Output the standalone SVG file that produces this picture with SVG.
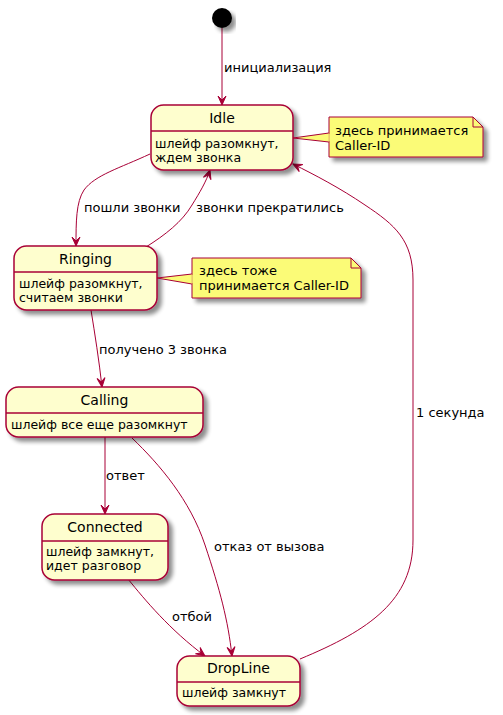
<svg xmlns="http://www.w3.org/2000/svg" width="503" height="715" viewBox="0 0 503 715">
<defs>
<filter id="sh" x="-10%" y="-10%" width="130%" height="140%">
<feGaussianBlur in="SourceAlpha" stdDeviation="2" result="b"/>
<feOffset in="b" dx="4" dy="4" result="o"/>
<feComponentTransfer in="o" result="c"><feFuncA type="linear" slope="0.45"/></feComponentTransfer>
<feMerge><feMergeNode in="c"/><feMergeNode in="SourceGraphic"/></feMerge>
</filter>
<marker id="ar" markerUnits="userSpaceOnUse" markerWidth="12" markerHeight="12" viewBox="-1 -6 12 12" refX="9" refY="0" orient="auto">
<path d="M0,-4 L9,0 L0,4 L4,0 Z" fill="#A80036" stroke="#A80036" stroke-width="1"/>
</marker>
</defs>
<style>
.st{fill:#FEFECE;stroke:#A80036;stroke-width:1.5;filter:url(#sh)}
.dv{stroke:#A80036;stroke-width:1.5}
.nt{fill:#FBFB77;stroke:#A80036;stroke-width:1;filter:url(#sh)}
.nf{fill:none;stroke:#A80036;stroke-width:1}
.ed{fill:none;stroke:#A80036;stroke-width:1;marker-end:url(#ar)}
text{font-family:"DejaVu Sans","Liberation Sans",sans-serif;fill:#000}
.t{font-size:14px;text-anchor:middle}
.b{font-size:12.5px}
.l{font-size:13px}
</style>
<rect width="503" height="715" fill="#FFFFFF"/>
<g id="connectors">
<line class="ed" x1="222" y1="28" x2="222" y2="105"/>
<path class="ed" d="M150,154 C120,168 95,175 84,190 C76,202 76,222 76,246"/>
<path class="ed" d="M146,247 C165,235 182,222 192,205 C200,192 206,182 210,170"/>
<path class="ed" d="M91,310 C95,335 99,360 102,387"/>
<line class="ed" x1="105" y1="437" x2="105" y2="514"/>
<path class="ed" d="M132,438 C160,465 190,500 205,545 C220,590 228,620 232,656"/>
<path class="ed" d="M128,579 C145,600 170,630 205,656"/>
<path class="ed" d="M300,659 C370,630 413,600 413,540 L413,280 C413,240 395,225 365,205 C340,188 315,175 293,164"/>
<text class="l" x="224" y="72">инициализация</text>
<text class="l" x="84" y="212">пошли звонки</text>
<text class="l" x="196" y="212">звонки прекратились</text>
<text class="l" x="99" y="354">получено 3 звонка</text>
<text class="l" x="106" y="480">ответ</text>
<text class="l" x="214" y="551">отказ от вызова</text>
<text class="l" x="172" y="621">отбой</text>
<text class="l" x="416" y="417">1 секунда</text>
</g>
<g id="start">
<circle cx="222" cy="18" r="10" fill="#000" filter="url(#sh)"/>
</g>
<g id="Idle">
<rect class="st" x="151" y="105" width="142" height="65" rx="12.5"/>
<line class="dv" x1="151" y1="131" x2="293" y2="131"/>
<text class="t" x="222" y="123">Idle</text>
<text class="b" x="155" y="148">шлейф разомкнут,</text>
<text class="b" x="155" y="162">ждем звонка</text>
</g>
<g id="Ringing">
<rect class="st" x="14" y="246" width="143" height="64" rx="12.5"/>
<line class="dv" x1="14" y1="272" x2="157" y2="272"/>
<text class="t" x="85.5" y="264">Ringing</text>
<text class="b" x="19" y="288">шлейф разомкнут,</text>
<text class="b" x="19" y="302">считаем звонки</text>
</g>
<g id="Calling">
<rect class="st" x="6" y="387" width="197" height="50" rx="12.5"/>
<line class="dv" x1="6" y1="413" x2="203" y2="413"/>
<text class="t" x="104.5" y="405">Calling</text>
<text class="b" x="11" y="429">шлейф все еще разомкнут</text>
</g>
<g id="Connected">
<rect class="st" x="42" y="514" width="126" height="66" rx="12.5"/>
<line class="dv" x1="42" y1="541" x2="168" y2="541"/>
<text class="t" x="105" y="532">Connected</text>
<text class="b" x="46" y="556">шлейф замкнут,</text>
<text class="b" x="46" y="570">идет разговор</text>
</g>
<g id="DropLine">
<rect class="st" x="177" y="656" width="123" height="50" rx="12.5"/>
<line class="dv" x1="177" y1="682" x2="300" y2="682"/>
<text class="t" x="238.5" y="673">DropLine</text>
<text class="b" x="182" y="697">шлейф замкнут</text>
</g>
<g id="note1">
<polygon class="nt" points="329,117 329,157 483,157 483,127 473,117"/>
<path class="nf" d="M473,117 L473,127 L483,127"/>
<polygon points="293,138 329,133 329,142" fill="#FBFB77" stroke="#A80036" stroke-width="1"/>
<line x1="329" y1="133.5" x2="329" y2="141.5" stroke="#FBFB77" stroke-width="1.5"/>
<text class="l" x="335" y="135">здесь принимается</text>
<text class="l" x="335" y="150">Caller-ID</text>
</g>
<g id="note2">
<polygon class="nt" points="192,258 192,298 361,298 361,268 351,258"/>
<path class="nf" d="M351,258 L351,268 L361,268"/>
<polygon points="157,278 192,274 192,284" fill="#FBFB77" stroke="#A80036" stroke-width="1"/>
<line x1="192" y1="274.5" x2="192" y2="283.5" stroke="#FBFB77" stroke-width="1.5"/>
<text class="l" x="199" y="275">здесь тоже</text>
<text class="l" x="199" y="290">принимается Caller-ID</text>
</g>
</svg>
